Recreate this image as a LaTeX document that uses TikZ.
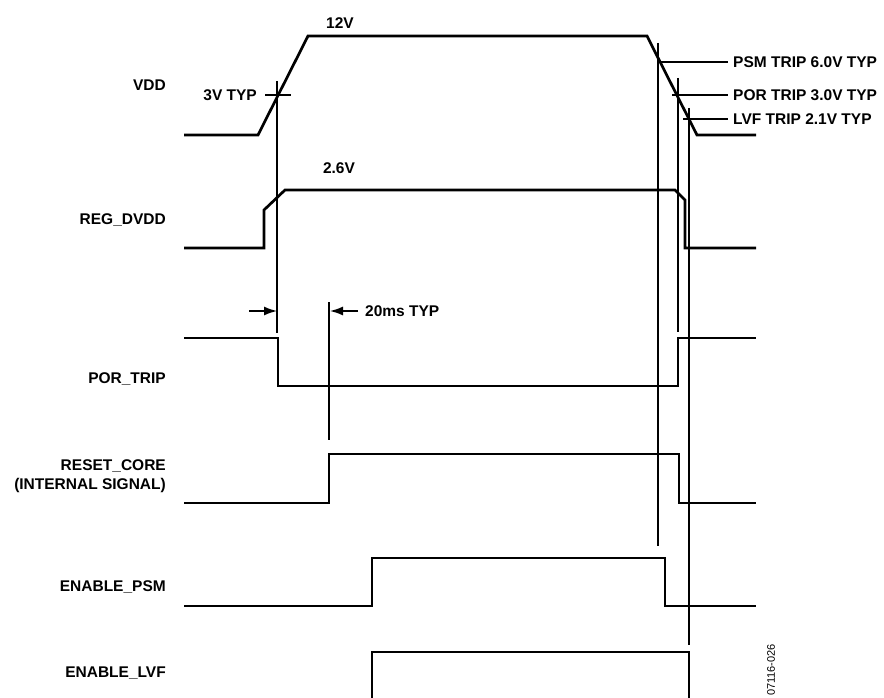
\documentclass[tikz,border=0pt]{standalone}
\usepackage{fontspec}
\setmainfont{Liberation Sans}
\usetikzlibrary{arrows.meta,positioning}

\begin{document}
\begin{tikzpicture}
  [x=1pt, y=-1pt,
   sig/.style={line width=2.7pt, line join=miter},
   guide/.style={line width=1.1pt},
   dim/.style={line width=1.5pt, -{Latex[length=13pt,width=9pt]}},
   lbl/.style={font=\bfseries\fontsize{15.5}{19}\selectfont, inner sep=0pt}]
  \useasboundingbox (0,0) rectangle (884,698);

  % signal names
  \node[lbl, anchor=east] (vdd) at (166,85) {VDD};
  \node[lbl, anchor=east] (regdvdd) at (166,220) {REG\_DVDD};
  \node[lbl, anchor=east] (portrip) at (166,379) {POR\_TRIP};
  \node[lbl, anchor=east, align=right] (resetcore) at (166,476)
    {RESET\_CORE\\(INTERNAL SIGNAL)};
  \node[lbl, anchor=east] (enpsm) at (166,587) {ENABLE\_PSM};
  \node[lbl, anchor=east] (enlvf) at (166,673) {ENABLE\_LVF};

  % waveforms
  \draw[sig] (184,135) -- (258,135) -- (308,36) -- (647,36) -- (697,135) -- (756,135);
  \draw[sig] (184,248) -- (264,248) -- (264,210) -- (285,190) -- (675,190)
    -- (685,200) -- (685,248) -- (756,248);
  \draw[sig] (184,338) -- (278,338) -- (278,386) -- (678,386) -- (678,338) -- (756,338);
  \draw[sig] (184,503) -- (329,503) -- (329,454) -- (679,454) -- (679,503) -- (756,503);
  \draw[sig] (184,606) -- (372,606) -- (372,558) -- (665,558) -- (665,606) -- (756,606);
  \draw[sig] (372,698) -- (372,652) -- (689,652) -- (689,698);

  % levels
  \node[lbl] (top) at (340,23) {12V};
  \node[lbl] (reg) at (339,168) {2.6V};

  % 3V point and 20ms delay
  \coordinate (t3a) at (277,81);
  \coordinate (t3b) at (277,333);
  \draw[guide] (t3a) -- (t3b);
  \draw[guide] (265,95) -- (291,95);
  \node[lbl, anchor=east] (typ) at (257,95) {3V TYP};
  \coordinate (dly) at (329,302);
  \draw[guide] (dly) -- (329,440);
  \draw[dim] (249,311) -- (277,311);
  \draw[dim] (358,311) -- (330,311);
  \node[lbl, anchor=west] (ms) at (365,311) {20ms TYP};

  % trip points
  \draw[guide] (658,43) -- (658,546);
  \draw[guide] (660,62) -- (728,62);
  \node[lbl, anchor=west] (psm) at (733,62) {PSM TRIP 6.0V TYP};
  \draw[guide] (678,78) -- (678,332);
  \draw[guide] (672,95) -- (728,95);
  \node[lbl, anchor=west] (por) at (733,95) {POR TRIP 3.0V TYP};
  \draw[guide] (689,108) -- (689,645);
  \draw[guide] (683,119) -- (728,119);
  \node[lbl, anchor=west] (lvf) at (733,119) {LVF TRIP 2.1V TYP};

  \node[rotate=90, anchor=west, font=\fontsize{11}{13}\selectfont, inner sep=0pt]
    (fig) at (771,696) {07116-026};
\end{tikzpicture}
\end{document}
